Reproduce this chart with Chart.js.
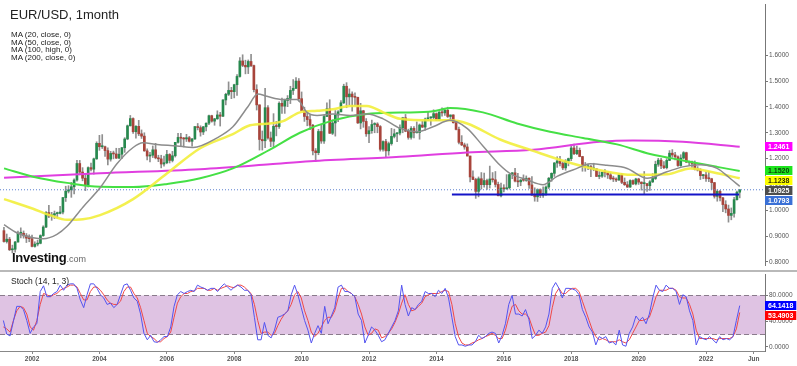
<!DOCTYPE html>
<html>
<head>
<meta charset="utf-8">
<title>EUR/USD, 1month</title>
<script src="https://cdn.jsdelivr.net/npm/chart.js@4.4.1/dist/chart.umd.min.js"></script>
<style>
  html, body { margin: 0; padding: 0; background: #fff; }
  #wrap { position: relative; width: 797px; height: 366px; overflow: hidden; font-family: Arial, "Liberation Sans", sans-serif; }
  #price { position: absolute; left: 0; top: 0; }
  #stoch { position: absolute; left: 0; top: 270px; }
  #sep { position: absolute; left: 0; top: 270px; width: 797px; height: 2px; background: #b9b9b9; }
  .title { position: absolute; left: 10px; top: 7px; font-size: 13px; line-height: 15px; color: #222; white-space: nowrap; }
  .legend { position: absolute; left: 11px; top: 30.6px; font-size: 8px; line-height: 7.9px; color: #222; white-space: nowrap; }
  .stochName { position: absolute; left: 11px; top: 276px; font-size: 8.5px; line-height: 10px; color: #222; white-space: nowrap; }
  .logo { position: absolute; left: 12px; top: 249.5px; line-height: 14px; white-space: nowrap; }
  .logo b { font-size: 13px; color: #111; letter-spacing: -0.3px; }
  .logo span { font-size: 9px; color: #666; }
</style>
</head>
<body>
<div id="wrap">
  <canvas id="price" width="797" height="270"></canvas>
  <div id="sep"></div>
  <canvas id="stoch" width="797" height="96"></canvas>
  <div class="title">EUR/USD, 1month</div>
  <div class="legend">MA (20, close, 0)<br>MA (50, close, 0)<br>MA (100, high, 0)<br>MA (200, close, 0)</div>
  <div class="logo"><b>Investing</b><span>.com</span></div>
  <div class="stochName">Stoch (14, 1, 3)</div>
</div>
<script>
// monthly candles, Mar 2001 .. Jan 2023
const firstYear = 2001, firstMonth = 2;

const opens = [
  0.921, 0.879, 0.888, 0.847, 0.849, 0.877, 0.911, 0.911, 0.901, 0.892,
  0.890, 0.860, 0.869, 0.872, 0.902, 0.935, 0.991, 0.978, 0.981, 0.987, 0.988, 0.993,
  1.049, 1.074, 1.079, 1.091, 1.117, 1.181, 1.148, 1.124, 1.098, 1.165, 1.159, 1.199,
  1.259, 1.246, 1.246, 1.231, 1.198, 1.220, 1.218, 1.202, 1.217, 1.242, 1.276, 1.327,
  1.355, 1.304, 1.325, 1.296, 1.287, 1.230, 1.210, 1.213, 1.234, 1.203, 1.199, 1.179,
  1.184, 1.216, 1.193, 1.211, 1.263, 1.282, 1.279, 1.276, 1.281, 1.267, 1.276, 1.324,
  1.320, 1.303, 1.323, 1.337, 1.366, 1.345, 1.354, 1.369, 1.364, 1.427, 1.449, 1.464,
  1.459, 1.486, 1.518, 1.578, 1.561, 1.555, 1.576, 1.560, 1.467, 1.408, 1.274, 1.269,
  1.397, 1.280, 1.267, 1.325, 1.324, 1.414, 1.403, 1.425, 1.433, 1.464, 1.472, 1.500,
  1.432, 1.386, 1.363, 1.351, 1.329, 1.230, 1.223, 1.305, 1.268, 1.363, 1.393, 1.298,
  1.338, 1.369, 1.381, 1.416, 1.480, 1.439, 1.450, 1.439, 1.437, 1.338, 1.385, 1.344,
  1.296, 1.308, 1.332, 1.334, 1.324, 1.236, 1.266, 1.230, 1.258, 1.286, 1.296, 1.299,
  1.319, 1.358, 1.306, 1.282, 1.317, 1.300, 1.301, 1.330, 1.322, 1.353, 1.358, 1.359,
  1.374, 1.349, 1.380, 1.377, 1.387, 1.363, 1.369, 1.339, 1.313, 1.263, 1.253, 1.245,
  1.210, 1.129, 1.119, 1.073, 1.122, 1.099, 1.115, 1.099, 1.121, 1.118, 1.100, 1.056,
  1.086, 1.083, 1.087, 1.138, 1.145, 1.113, 1.110, 1.117, 1.116, 1.124, 1.098, 1.059,
  1.052, 1.080, 1.058, 1.065, 1.090, 1.124, 1.143, 1.183, 1.191, 1.181, 1.164, 1.190,
  1.200, 1.241, 1.219, 1.232, 1.208, 1.169, 1.168, 1.169, 1.160, 1.160, 1.131, 1.132,
  1.147, 1.145, 1.137, 1.122, 1.121, 1.117, 1.137, 1.108, 1.099, 1.090, 1.115, 1.102,
  1.121, 1.109, 1.103, 1.103, 1.095, 1.110, 1.123, 1.178, 1.194, 1.172, 1.165, 1.193,
  1.221, 1.214, 1.207, 1.173, 1.202, 1.223, 1.186, 1.187, 1.181, 1.158, 1.156, 1.134,
  1.137, 1.123, 1.122, 1.107, 1.054, 1.073, 1.048, 1.022, 1.005, 0.980, 0.988, 1.041,
  1.070
];
const highs = [
  0.934, 0.908, 0.895, 0.865, 0.880, 0.919, 0.932, 0.920, 0.910, 0.905,
  0.904, 0.878, 0.884, 0.905, 0.940, 0.995, 1.019, 0.992, 0.997, 0.993, 1.015, 1.050,
  1.093, 1.095, 1.108, 1.122, 1.193, 1.193, 1.165, 1.142, 1.168, 1.183, 1.202, 1.265,
  1.290, 1.293, 1.248, 1.242, 1.228, 1.229, 1.240, 1.240, 1.244, 1.281, 1.330, 1.367,
  1.358, 1.328, 1.348, 1.311, 1.300, 1.238, 1.224, 1.249, 1.259, 1.213, 1.213, 1.210,
  1.232, 1.219, 1.228, 1.263, 1.298, 1.298, 1.282, 1.294, 1.286, 1.278, 1.324, 1.336,
  1.327, 1.325, 1.338, 1.368, 1.368, 1.356, 1.385, 1.379, 1.428, 1.453, 1.497, 1.476,
  1.488, 1.525, 1.591, 1.602, 1.581, 1.582, 1.604, 1.562, 1.486, 1.408, 1.307, 1.472,
  1.405, 1.303, 1.374, 1.344, 1.420, 1.434, 1.430, 1.444, 1.480, 1.506, 1.514, 1.510,
  1.458, 1.399, 1.382, 1.369, 1.333, 1.239, 1.313, 1.333, 1.368, 1.416, 1.428, 1.350,
  1.386, 1.386, 1.425, 1.488, 1.494, 1.470, 1.458, 1.455, 1.438, 1.414, 1.387, 1.355,
  1.324, 1.349, 1.339, 1.339, 1.328, 1.269, 1.275, 1.264, 1.317, 1.314, 1.301, 1.331,
  1.360, 1.371, 1.314, 1.324, 1.324, 1.342, 1.334, 1.345, 1.357, 1.383, 1.361, 1.389,
  1.377, 1.382, 1.397, 1.391, 1.399, 1.369, 1.370, 1.344, 1.322, 1.289, 1.260, 1.257,
  1.210, 1.153, 1.124, 1.129, 1.146, 1.144, 1.121, 1.171, 1.146, 1.150, 1.109, 1.105,
  1.099, 1.138, 1.139, 1.146, 1.162, 1.143, 1.119, 1.137, 1.133, 1.126, 1.130, 1.087,
  1.083, 1.083, 1.091, 1.095, 1.127, 1.145, 1.185, 1.207, 1.209, 1.188, 1.196, 1.202,
  1.254, 1.256, 1.248, 1.241, 1.209, 1.185, 1.179, 1.174, 1.182, 1.162, 1.150, 1.149,
  1.157, 1.149, 1.145, 1.132, 1.126, 1.141, 1.142, 1.125, 1.111, 1.118, 1.118, 1.124,
  1.124, 1.110, 1.150, 1.104, 1.115, 1.142, 1.190, 1.201, 1.201, 1.188, 1.200, 1.231,
  1.235, 1.224, 1.211, 1.215, 1.227, 1.225, 1.190, 1.190, 1.191, 1.169, 1.161, 1.139,
  1.148, 1.150, 1.124, 1.108, 1.079, 1.077, 1.050, 1.037, 1.020, 1.009, 1.050, 1.074,
  1.080
];
const lows = [
  0.876, 0.873, 0.844, 0.835, 0.838, 0.876, 0.893, 0.892, 0.875, 0.878,
  0.858, 0.857, 0.862, 0.870, 0.899, 0.933, 0.971, 0.961, 0.968, 0.969, 0.986, 0.986,
  1.034, 1.067, 1.050, 1.063, 1.113, 1.137, 1.114, 1.076, 1.090, 1.152, 1.140, 1.197,
  1.232, 1.239, 1.208, 1.176, 1.190, 1.199, 1.200, 1.200, 1.200, 1.224, 1.273, 1.326,
  1.297, 1.279, 1.289, 1.278, 1.228, 1.195, 1.187, 1.204, 1.199, 1.188, 1.164, 1.171,
  1.180, 1.183, 1.187, 1.206, 1.260, 1.246, 1.245, 1.266, 1.264, 1.248, 1.274, 1.311,
  1.287, 1.293, 1.307, 1.331, 1.341, 1.329, 1.352, 1.326, 1.362, 1.408, 1.444, 1.432,
  1.435, 1.445, 1.515, 1.556, 1.528, 1.529, 1.556, 1.458, 1.388, 1.233, 1.233, 1.242,
  1.275, 1.246, 1.245, 1.288, 1.317, 1.375, 1.375, 1.401, 1.413, 1.448, 1.471, 1.422,
  1.386, 1.344, 1.327, 1.312, 1.214, 1.188, 1.215, 1.259, 1.259, 1.363, 1.297, 1.293,
  1.287, 1.343, 1.381, 1.413, 1.397, 1.407, 1.384, 1.405, 1.336, 1.315, 1.321, 1.286,
  1.262, 1.298, 1.300, 1.300, 1.229, 1.229, 1.204, 1.213, 1.252, 1.280, 1.266, 1.292,
  1.300, 1.304, 1.275, 1.275, 1.280, 1.299, 1.275, 1.320, 1.310, 1.348, 1.329, 1.354,
  1.348, 1.348, 1.364, 1.367, 1.359, 1.350, 1.337, 1.311, 1.257, 1.250, 1.236, 1.210,
  1.110, 1.118, 1.046, 1.052, 1.082, 1.089, 1.081, 1.086, 1.109, 1.090, 1.056, 1.052,
  1.071, 1.081, 1.082, 1.122, 1.110, 1.091, 1.095, 1.112, 1.112, 1.085, 1.057, 1.035,
  1.034, 1.049, 1.050, 1.057, 1.084, 1.112, 1.131, 1.166, 1.172, 1.157, 1.155, 1.172,
  1.192, 1.215, 1.215, 1.207, 1.151, 1.151, 1.157, 1.130, 1.153, 1.130, 1.122, 1.127,
  1.129, 1.123, 1.118, 1.111, 1.111, 1.116, 1.103, 1.096, 1.088, 1.088, 1.099, 1.098,
  1.100, 1.078, 1.064, 1.073, 1.077, 1.107, 1.119, 1.170, 1.161, 1.161, 1.160, 1.192,
  1.205, 1.195, 1.170, 1.170, 1.199, 1.185, 1.175, 1.166, 1.156, 1.152, 1.119, 1.122,
  1.112, 1.111, 1.081, 1.047, 1.035, 1.036, 0.995, 0.990, 0.954, 0.963, 0.973, 1.039,
  1.048
];
const closes = [
  0.879, 0.888, 0.847, 0.849, 0.877, 0.911, 0.911, 0.901, 0.892, 0.890,
  0.860, 0.869, 0.872, 0.902, 0.935, 0.991, 0.978, 0.981, 0.987, 0.988, 0.993, 1.049,
  1.074, 1.079, 1.091, 1.117, 1.181, 1.148, 1.124, 1.098, 1.165, 1.159, 1.199, 1.259,
  1.246, 1.246, 1.231, 1.198, 1.220, 1.218, 1.202, 1.217, 1.242, 1.276, 1.327, 1.355,
  1.304, 1.325, 1.296, 1.287, 1.230, 1.210, 1.213, 1.234, 1.203, 1.199, 1.179, 1.184,
  1.216, 1.193, 1.211, 1.263, 1.282, 1.279, 1.276, 1.281, 1.267, 1.276, 1.324, 1.320,
  1.303, 1.323, 1.337, 1.366, 1.345, 1.354, 1.369, 1.364, 1.427, 1.449, 1.464, 1.459,
  1.486, 1.518, 1.578, 1.561, 1.555, 1.576, 1.560, 1.467, 1.408, 1.274, 1.269, 1.397,
  1.280, 1.267, 1.325, 1.324, 1.414, 1.403, 1.425, 1.433, 1.464, 1.472, 1.500, 1.432,
  1.386, 1.363, 1.351, 1.329, 1.230, 1.223, 1.305, 1.268, 1.363, 1.393, 1.298, 1.338,
  1.369, 1.381, 1.416, 1.480, 1.439, 1.450, 1.439, 1.437, 1.338, 1.385, 1.344, 1.296,
  1.308, 1.332, 1.334, 1.324, 1.236, 1.266, 1.230, 1.258, 1.286, 1.296, 1.299, 1.319,
  1.358, 1.306, 1.282, 1.317, 1.300, 1.301, 1.330, 1.322, 1.353, 1.358, 1.359, 1.374,
  1.349, 1.380, 1.377, 1.387, 1.363, 1.369, 1.339, 1.313, 1.263, 1.253, 1.245, 1.210,
  1.129, 1.119, 1.073, 1.122, 1.099, 1.115, 1.099, 1.121, 1.118, 1.100, 1.056, 1.086,
  1.083, 1.087, 1.138, 1.145, 1.113, 1.110, 1.117, 1.116, 1.124, 1.098, 1.059, 1.052,
  1.080, 1.058, 1.065, 1.090, 1.124, 1.143, 1.183, 1.191, 1.181, 1.164, 1.190, 1.200,
  1.241, 1.219, 1.232, 1.208, 1.169, 1.168, 1.169, 1.160, 1.160, 1.131, 1.132, 1.147,
  1.145, 1.137, 1.122, 1.121, 1.117, 1.137, 1.108, 1.099, 1.090, 1.115, 1.102, 1.121,
  1.109, 1.103, 1.103, 1.095, 1.110, 1.123, 1.178, 1.194, 1.172, 1.165, 1.193, 1.221,
  1.214, 1.207, 1.173, 1.202, 1.223, 1.186, 1.187, 1.181, 1.158, 1.156, 1.134, 1.137,
  1.123, 1.122, 1.107, 1.054, 1.073, 1.048, 1.022, 1.005, 0.980, 0.988, 1.041, 1.070,
  1.0793
];

// moving averages (x in years)
const ma20X = [2001.17, 2001.55, 2002.03, 2002.33, 2002.74, 2003.04, 2003.51, 2004.02, 2004.52, 2005.00,
  2005.29, 2005.71, 2006.30, 2006.78, 2007.49, 2007.96, 2008.40, 2008.70, 2008.97, 2009.45,
  2009.86, 2010.16, 2010.46, 2010.93, 2011.44, 2011.94, 2012.42, 2012.92, 2013.42, 2013.90,
  2014.40, 2014.91, 2015.38, 2015.89, 2016.18, 2016.69, 2017.16, 2017.58, 2018.17, 2018.56,
  2019.06, 2019.66, 2020.25, 2020.84, 2021.31, 2021.82, 2022.33, 2022.71, 2023.00];
const ma20Y = [0.944, 0.913, 0.894, 0.890, 0.907, 0.938, 1.012, 1.087, 1.180, 1.243,
  1.261, 1.255, 1.249, 1.243, 1.280, 1.323, 1.400, 1.450, 1.441, 1.429,
  1.429, 1.379, 1.367, 1.373, 1.367, 1.373, 1.354, 1.317, 1.304, 1.323,
  1.348, 1.317, 1.249, 1.174, 1.143, 1.118, 1.099, 1.131, 1.162, 1.180,
  1.174, 1.162, 1.124, 1.149, 1.168, 1.176, 1.162, 1.124, 1.0925];
const ma50X = [2001.17, 2002.03, 2002.53, 2003.04, 2003.51, 2004.02, 2005.00, 2006.01, 2006.99, 2007.96,
  2008.47, 2009.06, 2009.45, 2009.95, 2010.46, 2010.93, 2011.44, 2011.94, 2012.42, 2012.92,
  2013.90, 2014.40, 2014.91, 2015.89, 2016.87, 2017.88, 2018.85, 2019.83, 2020.84, 2021.53,
  2022.33, 2023.00];
const ma50Y = [1.043, 1.006, 0.981, 0.963, 0.965, 0.981, 1.043, 1.143, 1.240, 1.295,
  1.329, 1.336, 1.345, 1.379, 1.385, 1.391, 1.404, 1.404, 1.379, 1.354,
  1.348, 1.348, 1.336, 1.274, 1.230, 1.187, 1.155, 1.137, 1.139, 1.162,
  1.143, 1.1238];
const ma100X = [2001.17, 2002.03, 2003.04, 2004.02, 2005.00, 2006.01, 2006.99, 2007.96, 2009.06, 2009.95,
  2010.93, 2011.94, 2012.92, 2013.90, 2014.40, 2015.38, 2016.39, 2017.37, 2018.35, 2019.36,
  2020.34, 2021.31, 2022.33, 2023.00];
const ma100Y = [1.162, 1.130, 1.106, 1.091, 1.090, 1.102, 1.124, 1.162, 1.235, 1.300,
  1.348, 1.373, 1.378, 1.383, 1.396, 1.379, 1.336, 1.304, 1.280, 1.255,
  1.218, 1.193, 1.168, 1.1520];
const ma200X = [2001.17, 2004.02, 2006.99, 2009.06, 2010.25, 2012.92, 2014.91, 2016.87, 2018.85, 2019.83,
  2021.31, 2023.00];
const ma200Y = [1.126, 1.143, 1.159, 1.178, 1.190, 1.207, 1.224, 1.234, 1.265, 1.270,
  1.265, 1.2461];

// drawn support line
const supportLevel = 1.061;
const supportFrom = 2014.46, supportTo = 2022.98;

// stochastic (14, 1, 3), evenly spaced samples from the picture
const stochFirst = 2001.15, stochLast = 2023.0;
const stochK = [
  41, 20, 17, 40, 63, 63, 58, 41, 21, 31, 36, 86, 95, 78, 78, 83, 86, 96, 88, 96,
  98, 98, 91, 73, 61, 81, 98, 98, 91, 81, 76, 66, 68, 61, 66, 81, 96, 98, 88, 76,
  71, 51, 21, 11, 18, 8, 7, 11, 16, 16, 31, 63, 81, 86, 83, 86, 88,
  86, 96, 93, 91, 88, 91, 91, 86, 93, 98, 93, 88, 93, 96, 93, 88, 88, 81, 46, 11,
  11, 38, 18, 14, 26, 46, 48, 51, 56, 81, 96, 81, 61, 41, 26, 6, 21, 33, 21, 63,
  36, 48, 61, 93, 96, 86, 86, 83, 78, 51, 41, 6, 18, 31, 26, 18, 8,
  11, 21, 31, 41, 56, 96, 66, 48, 61, 58, 66, 71, 86, 83, 83, 78, 88, 83, 91, 76,
  46, 16, 3, 3, 1, 3, 3, 8, 18, 13, 16, 21, 23, 21, 6, 18, 36, 66, 80, 51,
  51, 48, 58, 43, 13, 18, 26, 21, 31, 51, 91, 100, 91, 76, 91, 91, 90,
  88, 81, 58, 46, 31, 23, 3, 16, 13, 16, 6, 8, 3, 26, 3, 1, 21, 31, 48, 41,
  46, 36, 51, 76, 96, 88, 86, 96, 91, 91, 86, 66, 81, 78, 56, 41, 3, 16, 13, 11,
  16, 11, 6, 16, 11, 13, 11, 16, 41, 64.1418
];
const stochD = [
  31, 28, 23, 41, 56, 63, 61, 51, 31, 26, 41, 66, 83, 81, 78, 81, 83, 88, 91, 93,
  96, 96, 93, 83, 73, 73, 86, 93, 93, 88, 81, 73, 68, 66, 66, 71, 86, 93, 93, 83,
  76, 61, 41, 21, 16, 13, 8, 8, 13, 16, 23, 46, 68, 78, 83, 83, 86,
  87, 91, 91, 91, 88, 88, 91, 88, 91, 93, 95, 93, 92, 96, 96, 93, 88, 83, 66, 41,
  21, 23, 23, 18, 21, 33, 43, 51, 56, 66, 81, 86, 76, 56, 41, 23, 16, 21, 31, 41,
  46, 46, 56, 76, 91, 91, 86, 83, 78, 66, 51, 31, 18, 21, 28, 26, 14,
  16, 21, 28, 38, 51, 68, 81, 66, 56, 58, 63, 68, 78, 81, 83, 83, 83, 86, 88, 86,
  66, 36, 16, 6, 3, 3, 6, 8, 11, 13, 16, 18, 21, 18, 13, 13, 26, 46, 63, 66,
  56, 51, 51, 46, 31, 18, 18, 21, 23, 33, 61, 83, 91, 83, 83, 88, 91,
  91, 86, 71, 56, 41, 26, 16, 11, 13, 11, 8, 8, 8, 11, 8, 6, 11, 21, 31, 41,
  41, 43, 46, 61, 78, 88, 88, 88, 91, 91, 88, 78, 76, 76, 66, 51, 26, 13, 13, 13,
  13, 13, 11, 13, 13, 13, 13, 16, 28, 53.4903
];
const stochBands = [20, 80];

// axes
const priceTicks = [0.8, 0.9, 1.0, 1.1, 1.2, 1.3, 1.4, 1.5, 1.6];
const stochTicks = [0, 40, 80];
const xTickValues = [2002, 2004, 2006, 2008, 2010, 2012, 2014, 2016, 2018, 2020, 2022, 2023.4167];
const xTickLabels = ['2002', '2004', '2006', '2008', '2010', '2012', '2014', '2016', '2018', '2020', '2022', 'Jun'];

const xMin = 2001.05, xMax = 2023.75;
const upColor = '#27894e', downColor = '#a8443b', wickColor = '#8f8f8f';

Chart.defaults.font.family = 'Arial, "Liberation Sans", sans-serif';

const monthX = i => firstYear + (firstMonth + i) / 12;
const pts = (xs, ys) => xs.map((x, i) => ({ x: x, y: ys[i] }));
const stochX = (i, n) => stochFirst + i * (stochLast - stochFirst) / (n - 1);

const wicks = highs.map((h, i) => ({ x: monthX(i), y: [lows[i], h] }));
const bodies = opens.map((o, i) => ({ x: monthX(i), y: [o, closes[i]] }));
const lastPrice = closes[closes.length - 1];

// right-hand value tags, pushed apart when they overlap
const sideTags = {
  id: 'sideTags',
  afterDraw(chart, args, opts) {
    const { ctx, chartArea, scales } = chart;
    const y = scales.y;
    const items = opts.items.map(it => Object.assign({}, it, { py: y.getPixelForValue(it.value) }))
      .sort((a, b) => a.py - b.py);
    let prev = -100;
    ctx.save();
    ctx.font = 'bold 7px Arial, "Liberation Sans", sans-serif';
    ctx.textBaseline = 'middle';
    items.forEach(it => {
      const cy = Math.max(it.py, prev + 10);
      prev = cy;
      const text = it.value.toFixed(4);
      const w = ctx.measureText(text).width + 6;
      ctx.fillStyle = it.bg;
      ctx.fillRect(chartArea.right, Math.round(cy - 4.5), w, 9);
      ctx.fillStyle = it.fg;
      ctx.fillText(text, chartArea.right + 3, Math.round(cy - 4.5) + 5);
    });
    ctx.restore();
  }
};

// stoch overbought / oversold band
const bandPlugin = {
  id: 'bandPlugin',
  beforeDatasetsDraw(chart) {
    const { ctx, chartArea: a, scales } = chart;
    const yTop = Math.round(scales.y.getPixelForValue(stochBands[1])) + 0.5;
    const yBot = Math.round(scales.y.getPixelForValue(stochBands[0])) + 0.5;
    ctx.save();
    ctx.fillStyle = '#dfc3e3';
    ctx.fillRect(a.left, yTop, a.right - a.left, yBot - yTop);
    ctx.strokeStyle = '#8a7b8c';
    ctx.lineWidth = 1;
    ctx.setLineDash([5, 3]);
    [yTop, yBot].forEach(py => {
      ctx.beginPath();
      ctx.moveTo(a.left, py);
      ctx.lineTo(a.right, py);
      ctx.stroke();
    });
    ctx.restore();
  }
};

const rightAxis = (min, max, ticks) => ({
  position: 'right',
  min: min,
  max: max,
  afterFit: s => { s.width = 32; },
  afterBuildTicks: s => { s.ticks = ticks.map(v => ({ value: v })); },
  ticks: { callback: v => Number(v).toFixed(4), font: { size: 6.5 }, color: '#555', padding: 1 },
  grid: { drawOnChartArea: false, drawTicks: true, tickLength: 3, tickColor: '#777' },
  border: { display: true, color: '#777', width: 1 }
});

const maLine = (xs, ys, color, width) => ({
  type: 'line',
  data: pts(xs, ys),
  borderColor: color,
  borderWidth: width,
  pointRadius: 0,
  cubicInterpolationMode: 'monotone',
  order: 0
});

new Chart(document.getElementById('price'), {
  type: 'bar',
  data: {
    datasets: [
      maLine(ma20X, ma20Y, '#8c8c8c', 1.5),
      maLine(ma50X, ma50Y, 'rgba(242, 238, 60, 0.9)', 2.5),
      maLine(ma100X, ma100Y, '#45e045', 2),
      maLine(ma200X, ma200Y, '#e03ee0', 2),
      {
        type: 'line',
        data: [{ x: supportFrom, y: supportLevel }, { x: supportTo, y: supportLevel }],
        borderColor: '#1414c8', borderWidth: 2, pointRadius: 0, order: 0
      },
      {
        type: 'line',
        data: [{ x: xMin, y: lastPrice }, { x: xMax, y: lastPrice }],
        borderColor: '#5a7fd0', borderWidth: 1, borderDash: [1, 2], pointRadius: 0, order: 0
      },
      {
        data: bodies,
        backgroundColor: bodies.map((b, i) => closes[i] >= opens[i] ? upColor : downColor),
        barThickness: 2, grouped: false, minBarLength: 1, order: 1
      },
      {
        data: wicks,
        backgroundColor: wickColor,
        barThickness: 1, grouped: false, order: 2
      }
    ]
  },
  options: {
    responsive: false,
    animation: false,
    events: [],
    layout: { padding: 0, autoPadding: false },
    plugins: {
      legend: { display: false },
      tooltip: { enabled: false },
      sideTags: {
        items: [
          { value: ma200Y[ma200Y.length - 1], bg: '#ff00ff', fg: '#ffffff' },
          { value: ma100Y[ma100Y.length - 1], bg: '#1ee41e', fg: '#0b3d0b' },
          { value: ma50Y[ma50Y.length - 1], bg: '#ffff00', fg: '#333300' },
          { value: ma20Y[ma20Y.length - 1], bg: '#4d4d4d', fg: '#ffffff' },
          { value: lastPrice, bg: '#3a70d6', fg: '#ffffff' }
        ]
      }
    },
    scales: {
      x: { type: 'linear', min: xMin, max: xMax, display: false, offset: false, grid: { offset: false } },
      y: rightAxis(0.7877, 1.795, priceTicks)
    }
  },
  plugins: [sideTags]
});

new Chart(document.getElementById('stoch'), {
  type: 'line',
  data: {
    datasets: [
      { data: stochK.map((v, i) => ({ x: stochX(i, stochK.length), y: v })), borderColor: '#5454f0', borderWidth: 1, pointRadius: 0, tension: 0 },
      { data: stochD.map((v, i) => ({ x: stochX(i, stochD.length), y: v })), borderColor: '#f04848', borderWidth: 1, pointRadius: 0, tension: 0 }
    ]
  },
  options: {
    responsive: false,
    animation: false,
    events: [],
    layout: { padding: { top: 2, left: 0, right: 0, bottom: 0 }, autoPadding: false },
    plugins: {
      legend: { display: false },
      tooltip: { enabled: false },
      sideTags: {
        items: [
          { value: stochK[stochK.length - 1], bg: '#0000ff', fg: '#ffffff' },
          { value: stochD[stochD.length - 1], bg: '#ff0000', fg: '#ffffff' }
        ]
      }
    },
    scales: {
      x: {
        type: 'linear', min: xMin, max: xMax, offset: false,
        afterFit: s => { s.height = 15; },
        afterBuildTicks: s => { s.ticks = xTickValues.map(v => ({ value: v })); },
        ticks: {
          autoSkip: false, maxRotation: 0, padding: 1,
          callback: (v, i) => xTickLabels[i],
          font: { size: 6.5, weight: 'bold' }, color: '#555'
        },
        grid: { drawOnChartArea: false, drawTicks: true, tickLength: 3, tickColor: '#888' },
        border: { display: true, color: '#888', width: 1 }
      },
      y: rightAxis(-6.4, 111.9, stochTicks)
    }
  },
  plugins: [bandPlugin, sideTags]
});
</script>
</body>
</html>
